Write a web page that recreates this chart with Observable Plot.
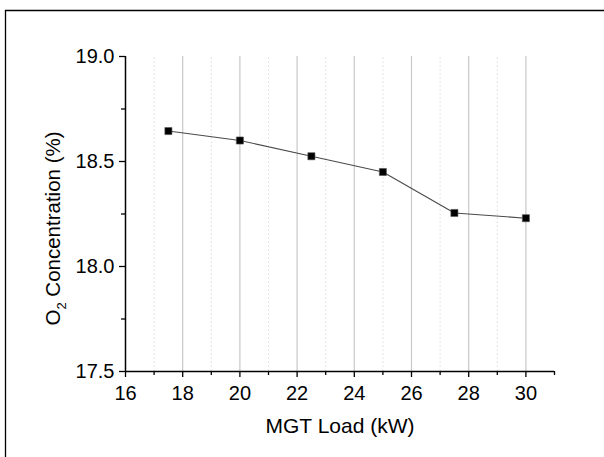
<!DOCTYPE html>
<html>
<head>
<meta charset="utf-8">
<script src="https://cdn.jsdelivr.net/npm/d3@7"></script>
<script src="https://cdn.jsdelivr.net/npm/@observablehq/plot@0.6"></script>
<style>
  html, body { margin: 0; padding: 0; background: #fff; }
  #chart svg { display: block; font-family: "Liberation Sans", Arial, sans-serif; }
</style>
</head>
<body>
<div id="chart"></div>
<script>
// Data
const loads = [17.5, 20, 22.5, 25, 27.5, 30];            // MGT Load (kW)
const o2 = [18.645, 18.60, 18.525, 18.45, 18.255, 18.23];  // O2 concentration (%)
const xMajorTicks = [16, 18, 20, 22, 24, 26, 28, 30];
const xMinorTicks = [17, 19, 21, 23, 25, 27, 29, 31];
const yMajorTicks = [17.5, 18.0, 18.5, 19.0];
const yMinorTicks = [17.75, 18.25, 18.75];
const xLabel = "MGT Load (kW)";
const yLabelParts = ["O", "2", " Concentration (%)"];

const data = loads.map((x, i) => ({x, y: o2[i]}));
const xGridMajor = xMajorTicks.filter(d => d > 16);
const xGridMinor = xMinorTicks.filter(d => d < 31);

const plot = Plot.plot({
  width: 604,
  height: 457,
  marginLeft: 125,
  marginRight: 50,
  marginTop: 56,
  marginBottom: 86,
  style: {fontFamily: "Liberation Sans, Arial, sans-serif", color: "black", background: "white"},
  x: {domain: [16, 31]},
  y: {domain: [17.5, 19]},
  marks: [
    Plot.ruleX(xGridMinor, {y1: 17.5, y2: 19, stroke: "#dcdcdc", strokeDasharray: "1.5,2.5", strokeWidth: 1}),
    Plot.ruleX(xGridMajor, {y1: 17.5, y2: 19, stroke: "#c8c8c8", strokeWidth: 1.2}),
    Plot.axisX(xMajorTicks, {tickSize: 6, tickPadding: 8, fontSize: 20, tickFormat: d => String(d), label: null, strokeWidth: 1.3}),
    Plot.axisX(xMinorTicks, {tickSize: 4, tickFormat: () => "", label: null, strokeWidth: 1.3}),
    Plot.axisY(yMajorTicks, {tickSize: 6, tickPadding: 5, fontSize: 20, tickFormat: d3.format(".1f"), label: null, strokeWidth: 1.3}),
    Plot.axisY(yMinorTicks, {tickSize: 4, tickFormat: () => "", label: null, strokeWidth: 1.3}),
    Plot.ruleY([17.5], {x1: 16, x2: 31, stroke: "black", strokeWidth: 1.5}),
    Plot.ruleX([16], {y1: 17.5, y2: 19, stroke: "black", strokeWidth: 1.5}),
    Plot.line(data, {x: "x", y: "y", stroke: "#4a4a4a", strokeWidth: 1.1}),
    Plot.dot(data, {x: "x", y: "y", symbol: "square", r: 4, fill: "black", stroke: "#555", strokeWidth: 0.6}),
    Plot.text([xLabel], {frameAnchor: "bottom", dy: 55, fontSize: 21, lineAnchor: "middle", fill: "black"})
  ]
});

document.getElementById("chart").appendChild(plot);

const svg = d3.select(plot);

const yScale = plot.scale("y");
const yMid = (yScale.apply(17.5) + yScale.apply(19)) / 2 + 15;
const t = svg.append("text")
  .attr("transform", `translate(60,${yMid}) rotate(-90)`)
  .attr("text-anchor", "middle")
  .attr("font-size", 20.5)
  .attr("fill", "black");
t.append("tspan").text(yLabelParts[0]);
t.append("tspan").attr("font-size", 13).attr("dy", 6).text(yLabelParts[1]);
t.append("tspan").attr("dy", -6).text(yLabelParts[2]);

// outer frame (left and top edges visible in the reference)
svg.append("path")
  .attr("d", "M5.5,457V10.5H604")
  .attr("fill", "none")
  .attr("stroke", "black")
  .attr("stroke-width", 1.3);
</script>
</body>
</html>
